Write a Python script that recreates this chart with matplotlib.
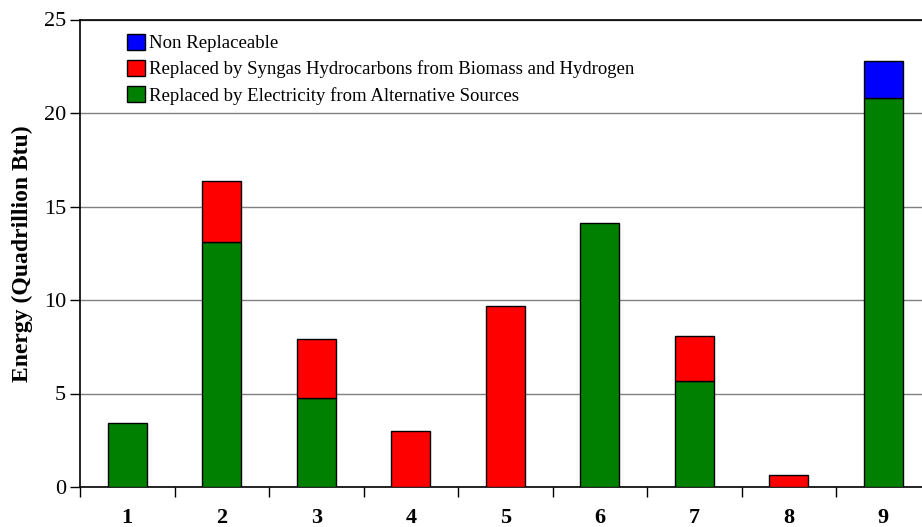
import numpy as np
import matplotlib
matplotlib.use("Agg")
import matplotlib.pyplot as plt

plt.rcParams["font.family"] = ["Liberation Serif", "DejaVu Serif"]

## Data (Quadrillion Btu)
categories = ["1", "2", "3", "4", "5", "6", "7", "8", "9"]
electricity = [3.42, 13.1, 4.76, 0.0, 0.0, 14.13, 5.67, 0.0, 20.82]
syngas = [0.0, 3.27, 3.16, 3.0, 9.7, 0.0, 2.4, 0.63, 0.0]
non_replaceable = [0.0, 0.0, 0.0, 0.0, 0.0, 0.0, 0.0, 0.0, 1.95]

c_green = "#008000"
c_red = "#ff0000"
c_blue = "#0000ff"

fig = plt.figure(figsize=(9.22, 5.27), dpi=100)
ax = fig.add_axes([80/922, 1-487/527, 850.5/922, 467.5/527])

x = np.arange(len(categories))
elec = np.array(electricity)
syn = np.array(syngas)
nonr = np.array(non_replaceable)
w = 0.41

# only draw nonzero segments so that empty ones don't leave edge lines
def seg(vals, bottom, color, label):
    m = vals > 0
    return ax.bar(x[m], vals[m], w, bottom=bottom[m], color=color,
                  edgecolor="black", linewidth=1, label=label, zorder=3)

b_g = seg(elec, np.zeros_like(elec), c_green,
          "Replaced by Electricity from Alternative Sources")
b_r = seg(syn, elec, c_red,
          "Replaced by Syngas Hydrocarbons from Biomass and Hydrogen")
b_b = seg(nonr, elec + syn, c_blue, "Non Replaceable")

ax.set_xlim(-0.5, 8.5)
ax.set_ylim(0, 25)
ax.set_yticks([0, 5, 10, 15, 20, 25])
ax.yaxis.grid(True, color="#808080", linewidth=1, zorder=0)
ax.set_axisbelow(True)

# ticks between categories, labels at centers
ax.set_xticks(np.arange(-0.5, 9.0, 1.0))
ax.set_xticklabels([])
ax.set_xticks(x, minor=True)
ax.set_xticklabels(categories, minor=True, fontsize=16, fontweight="bold")
ax.tick_params(axis="x", which="major", length=7, width=1, direction="out")
ax.tick_params(axis="x", which="minor", length=0, pad=15)
ax.tick_params(axis="y", length=7, width=1, labelsize=16, pad=3)

ax.spines["right"].set_visible(False)
ax.spines["top"].set_color("black")
for s in ["left", "bottom", "top"]:
    ax.spines[s].set_linewidth(1.2)

ax.set_ylabel("Energy (Quadrillion Btu)", fontsize=17, fontweight="bold", labelpad=8)

leg = ax.legend(handles=[b_b, b_r, b_g], loc="upper left",
                bbox_to_anchor=(0.046, 0.985), frameon=False, fontsize=13.5,
                handlelength=1.0, handleheight=0.9, handletextpad=0.2,
                labelspacing=0.42, borderaxespad=0)

fig.savefig("out.png", dpi=100)
